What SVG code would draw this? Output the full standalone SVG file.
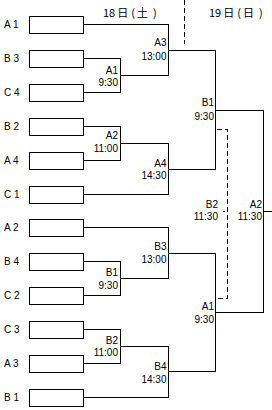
<svg xmlns="http://www.w3.org/2000/svg" width="272" height="410" viewBox="0 0 272 410">
<style>
.bg{fill:#fff}
.box{fill:#fff;stroke:#000;stroke-width:1}
.ln{fill:none;stroke:#000;stroke-width:1}
.dash{fill:none;stroke:#000;stroke-width:1;stroke-dasharray:5,3}
.t{font-family:"Liberation Sans",Arial,sans-serif;font-size:10px;fill:#000}
.lb{font-family:"Liberation Sans",Arial,sans-serif;font-size:10px;fill:#000;text-anchor:end}
.hd{font-family:"Noto Sans CJK JP","Liberation Sans",sans-serif;font-size:11px;fill:#000}
</style>
<rect class="bg" x="0" y="0" width="272" height="410"/>
<g id="header">
<text class="hd" x="103" y="16.5">18<tspan dx="2">日</tspan><tspan dx="3">(</tspan><tspan dx="2">土</tspan><tspan dx="5">)</tspan></text>
<text class="hd" x="209" y="16.5">19<tspan dx="2">日</tspan><tspan dx="3">(</tspan><tspan dx="2">日</tspan><tspan dx="5">)</tspan></text>
</g>
<g id="connectors" shape-rendering="crispEdges">
<path class="dash" d="M184.5,0V44"/>
<path class="dash" d="M217,129.5H227.5V298.5H217"/>
<path class="ln" d="M222.5,211.5H225"/>
<path class="ln" d="M83.5,58.5H120.5V92.5H83.5M120.5,75.5H168.5"/>
<path class="ln" d="M83.5,126.5H120.5V160.5H83.5M120.5,143.5H168.5"/>
<path class="ln" d="M83.5,261.5H120.5V295.5H83.5M120.5,278.5H168.5"/>
<path class="ln" d="M83.5,329.5H120.5V363.5H83.5M120.5,346.5H168.5"/>
<path class="ln" d="M83.5,24.5H168.5V75.5M168.5,50.5H215.5"/>
<path class="ln" d="M83.5,194.5H168.5V143.5M168.5,169.5H215.5"/>
<path class="ln" d="M83.5,227.5H168.5V278.5M168.5,253.5H215.5"/>
<path class="ln" d="M83.5,397.5H168.5V346.5M168.5,371.5H215.5"/>
<path class="ln" d="M215.5,50.5V169.5M215.5,110.5H263.5"/>
<path class="ln" d="M215.5,253.5V371.5M215.5,312.5H263.5"/>
<path class="ln" d="M263.5,110.5V312.5M263.5,211.5H272"/>
</g>
<g id="team-A1"><rect class="box" x="29.5" y="16.5" width="54" height="17" shape-rendering="crispEdges"/><text class="t" x="4" y="28">A 1</text></g>
<g id="team-B3"><rect class="box" x="29.5" y="50.5" width="54" height="17" shape-rendering="crispEdges"/><text class="t" x="4" y="62">B 3</text></g>
<g id="team-C4"><rect class="box" x="29.5" y="84.5" width="54" height="17" shape-rendering="crispEdges"/><text class="t" x="4" y="96">C 4</text></g>
<g id="team-B2"><rect class="box" x="29.5" y="118.5" width="54" height="17" shape-rendering="crispEdges"/><text class="t" x="4" y="130">B 2</text></g>
<g id="team-A4"><rect class="box" x="29.5" y="152.5" width="54" height="17" shape-rendering="crispEdges"/><text class="t" x="4" y="164">A 4</text></g>
<g id="team-C1"><rect class="box" x="29.5" y="186.5" width="54" height="17" shape-rendering="crispEdges"/><text class="t" x="4" y="198">C 1</text></g>
<g id="team-A2"><rect class="box" x="29.5" y="219.5" width="54" height="17" shape-rendering="crispEdges"/><text class="t" x="4" y="231">A 2</text></g>
<g id="team-B4"><rect class="box" x="29.5" y="253.5" width="54" height="17" shape-rendering="crispEdges"/><text class="t" x="4" y="265">B 4</text></g>
<g id="team-C2"><rect class="box" x="29.5" y="287.5" width="54" height="17" shape-rendering="crispEdges"/><text class="t" x="4" y="299">C 2</text></g>
<g id="team-C3"><rect class="box" x="29.5" y="321.5" width="54" height="17" shape-rendering="crispEdges"/><text class="t" x="4" y="333">C 3</text></g>
<g id="team-A3"><rect class="box" x="29.5" y="355.5" width="54" height="17" shape-rendering="crispEdges"/><text class="t" x="4" y="367">A 3</text></g>
<g id="team-B1"><rect class="box" x="29.5" y="389.5" width="54" height="17" shape-rendering="crispEdges"/><text class="t" x="4" y="401">B 1</text></g>
<g id="match-r1-A1"><text class="lb" x="118" y="73.5">A1</text><text class="lb" x="118" y="86">9:30</text></g>
<g id="match-r1-A2"><text class="lb" x="118" y="138.5">A2</text><text class="lb" x="118" y="152">11:00</text></g>
<g id="match-r1-B1"><text class="lb" x="118" y="276">B1</text><text class="lb" x="118" y="289">9:30</text></g>
<g id="match-r1-B2"><text class="lb" x="118" y="343.5">B2</text><text class="lb" x="118" y="356">11:00</text></g>
<g id="match-r2-A3"><text class="lb" x="166.5" y="46">A3</text><text class="lb" x="166.5" y="59.5">13:00</text></g>
<g id="match-r2-A4"><text class="lb" x="166.5" y="166.5">A4</text><text class="lb" x="166.5" y="178.5">14:30</text></g>
<g id="match-r2-B3"><text class="lb" x="166.5" y="250">B3</text><text class="lb" x="166.5" y="262.5">13:00</text></g>
<g id="match-r2-B4"><text class="lb" x="166.5" y="370">B4</text><text class="lb" x="166.5" y="382.5">14:30</text></g>
<g id="match-r3-B1"><text class="lb" x="214" y="106">B1</text><text class="lb" x="214" y="119.5">9:30</text></g>
<g id="match-r3-A1"><text class="lb" x="214" y="310">A1</text><text class="lb" x="214" y="323">9:30</text></g>
<g id="match-B2"><text class="lb" x="218" y="207.5">B2</text><text class="lb" x="218" y="220">11:30</text></g>
<g id="match-final-A2"><text class="lb" x="262" y="207.5">A2</text><text class="lb" x="262" y="220">11:30</text></g>
</svg>
